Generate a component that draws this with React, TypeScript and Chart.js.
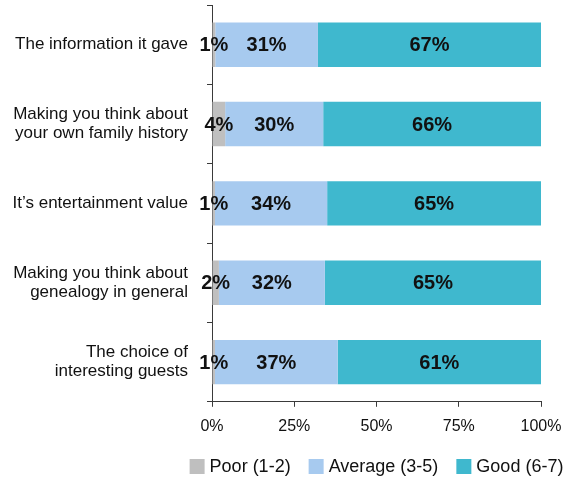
import React, { useEffect, useRef } from "react";
import { Chart, registerables } from "chart.js";

Chart.register(...registerables);

const categories: (string | string[])[] = [
  "The information it gave",
  ["Making you think about", "your own family history"],
  "It’s entertainment value",
  ["Making you think about", "genealogy in general"],
  ["The choice of", "interesting guests"],
];
const seriesNames = ["Poor (1-2)", "Average (3-5)", "Good (6-7)"];
const poor = [1.0, 4.0, 0.9, 2.1, 0.9];
const average = [31.2, 29.8, 34.1, 32.2, 37.3];
const good = [67.8, 66.2, 65.0, 65.7, 61.8];
const poorLabels = ["1%", "4%", "1%", "2%", "1%"];
const averageLabels = ["31%", "30%", "34%", "32%", "37%"];
const goodLabels = ["67%", "66%", "65%", "65%", "61%"];
const xTickStep = 25;
const xMin = 0;
const xMax = 100;

const colors = ["#BFBFBF", "#A7CAEF", "#3FB8CE"];
const FONT = "'Liberation Sans', Arial, sans-serif";
const AXIS = "#3a3a3a";

const segmentLabels = [poorLabels, averageLabels, goodLabels];

const dataLabelPlugin = {
  id: "segLabels",
  afterDatasetsDraw(chart: any) {
    const ctx = chart.ctx;
    ctx.save();
    ctx.font = `bold 20px ${FONT}`;
    ctx.fillStyle = "#111";
    ctx.textAlign = "center";
    ctx.textBaseline = "middle";
    chart.data.datasets.forEach((_ds: any, i: number) => {
      const meta = chart.getDatasetMeta(i);
      meta.data.forEach((bar: any, j: number) => {
        const p = bar.getProps(["x", "base", "y"], true);
        ctx.fillText(segmentLabels[i][j], (p.x + p.base) / 2, p.y + 1);
      });
    });
    ctx.restore();
  },
};

const legendPlugin = {
  id: "customLegend",
  afterDraw(chart: any) {
    const ctx = chart.ctx;
    const area = chart.chartArea;
    ctx.save();
    ctx.font = `18px ${FONT}`;
    ctx.textBaseline = "middle";
    ctx.textAlign = "left";
    const box = 15;
    const gapText = 5;
    const gapItem = 18;
    const items = chart.data.datasets.map((ds: any) => ({
      text: ds.label as string,
      color: ds.backgroundColor as string,
      w: ctx.measureText(ds.label).width,
    }));
    const total =
      items.reduce((s: number, it: any) => s + box + gapText + it.w, 0) +
      gapItem * (items.length - 1);
    let x = (area.left + area.right) / 2 - total / 2;
    const cy = 466.5;
    items.forEach((it: any) => {
      ctx.fillStyle = it.color;
      ctx.fillRect(x, cy - box / 2, box, box);
      ctx.fillStyle = "#111";
      ctx.fillText(it.text, x + box + gapText, cy + 1);
      x += box + gapText + it.w + gapItem;
    });
    ctx.restore();
  },
};

export default function App() {
  const ref = useRef<HTMLCanvasElement | null>(null);
  useEffect(() => {
    if (!ref.current) return;
    const chart = new Chart(ref.current, {
      type: "bar",
      data: {
        labels: categories as any,
        datasets: [
          { label: seriesNames[0], data: poor, backgroundColor: colors[0] },
          { label: seriesNames[1], data: average, backgroundColor: colors[1] },
          { label: seriesNames[2], data: good, backgroundColor: colors[2] },
        ].map((d) => ({
          ...d,
          barPercentage: 0.56,
          categoryPercentage: 1,
          borderWidth: 0,
        })),
      },
      options: {
        indexAxis: "y",
        responsive: false,
        animation: false,
        layout: { padding: { top: 5, right: 28, bottom: 37, left: 0 } },
        plugins: {
          legend: { display: false },
          tooltip: { enabled: false },
        },
        scales: {
          x: {
            stacked: true,
            min: xMin,
            max: xMax,
            afterFit: (scale: any) => {
              scale.paddingLeft = 0;
              scale.paddingRight = 0;
            },
            ticks: {
              stepSize: xTickStep,
              callback: (v: any) => `${v}%`,
              font: { family: FONT, size: 16 },
              color: "#111",
              padding: 10,
              maxRotation: 0,
            },
            grid: {
              drawOnChartArea: false,
              drawTicks: true,
              tickLength: 5,
              color: AXIS,
            },
            border: { display: true, color: AXIS, width: 1 },
          },
          y: {
            stacked: true,
            afterFit: (scale: any) => {
              scale.width = 212;
              scale.paddingTop = 0;
              scale.paddingBottom = 0;
            },
            ticks: {
              font: { family: FONT, size: 17, lineHeight: 1.12 },
              color: "#111",
              padding: 19,
            },
            grid: {
              offset: true,
              drawOnChartArea: false,
              drawTicks: true,
              tickLength: 5,
              color: AXIS,
            },
            border: { display: true, color: AXIS, width: 1 },
          },
        },
      },
      plugins: [dataLabelPlugin, legendPlugin],
    });
    return () => chart.destroy();
  }, []);
  return (
    <div
      style={{
        position: "absolute",
        left: 0,
        top: 0,
        width: 569,
        height: 483,
        background: "#fff",
      }}
    >
      <canvas ref={ref} width={569} height={483} style={{ display: "block" }} />
    </div>
  );
}
